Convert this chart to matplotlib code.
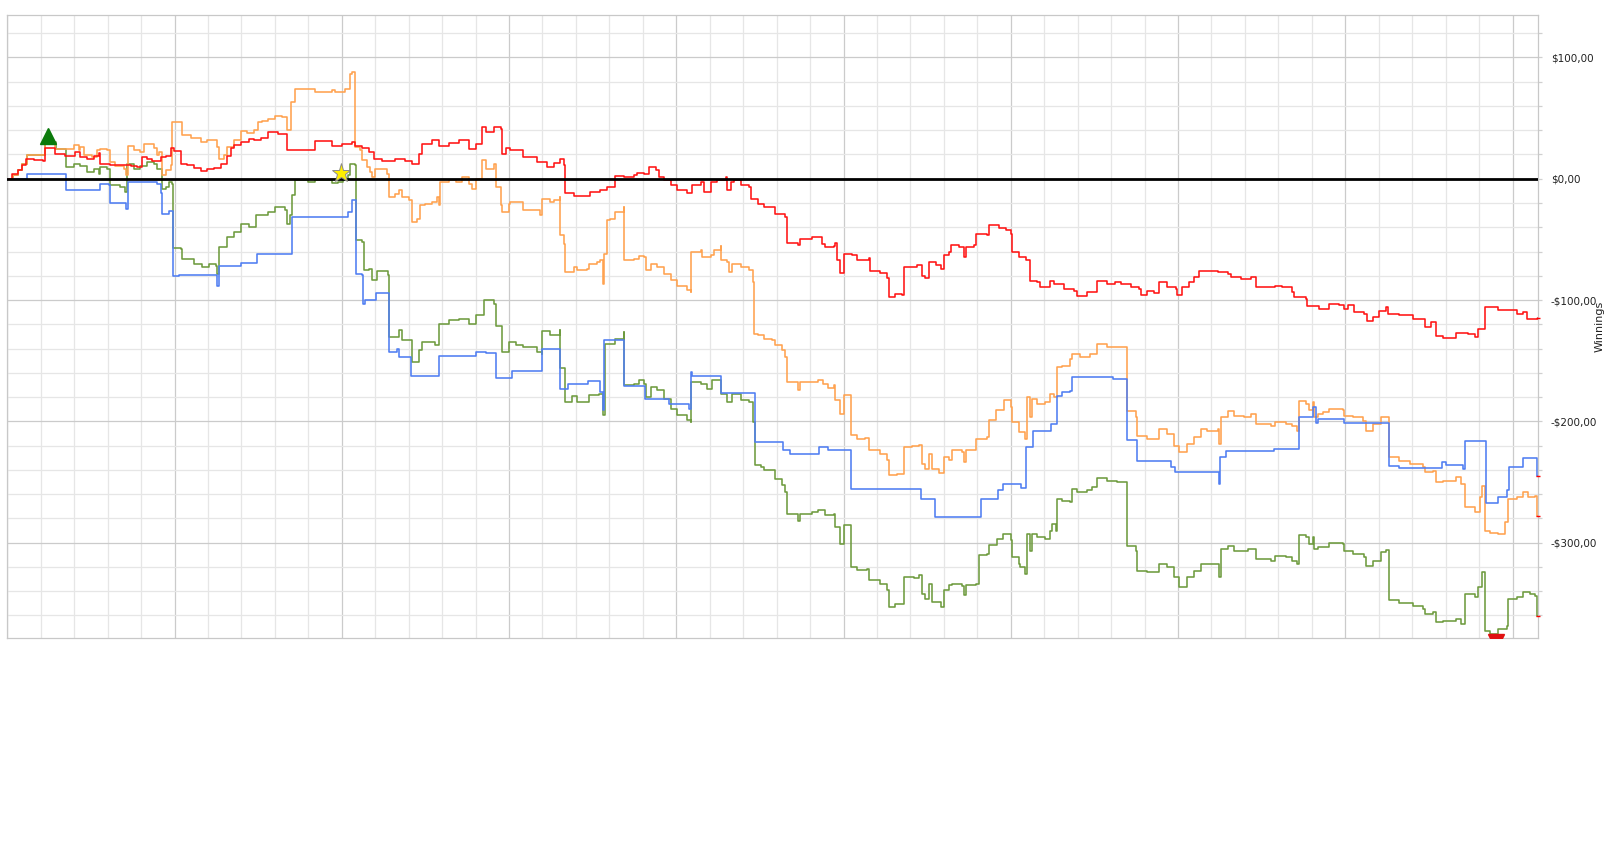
import matplotlib
matplotlib.use("Agg")
import matplotlib.pyplot as plt
from matplotlib.ticker import MultipleLocator, FuncFormatter

# cumulative winnings per series, (hand, dollars)
red = [(0, 0), (13, 4), (33, 7), (43, 11), (55, 16.5), (80, 15.5), (108, 15), (113, 25.5), (143, 20), (173, 18.4),
       (203, 22), (218, 18), (238, 16.5), (258, 18.4), (273, 21), (278, 12), (308, 11), (338, 11.5), (370, 10.5),
       (388, 10), (403, 18), (418, 16.5), (433, 15), (458, 17.6), (473, 19), (488, 25.5), (498, 23), (518, 12),
       (538, 11.5), (558, 9), (578, 6), (598, 8), (618, 8.5), (638, 12), (658, 19), (668, 25), (678, 27.5),
       (698, 30), (723, 32.4), (738, 31.6), (758, 34), (780, 38.5), (810, 37), (837, 23.4), (920, 31), (970, 26.6),
       (1000, 29), (1030, 30), (1040, 26.6), (1060, 25.5), (1080, 22), (1095, 16.5), (1120, 15), (1160, 16.5),
       (1190, 14.6), (1210, 11.8), (1230, 20.6), (1240, 29), (1270, 31.6), (1290, 26.6), (1320, 29.4), (1350, 31.6),
       (1380, 24.7), (1400, 28.3), (1420, 42.6), (1430, 38.5), (1455, 42.6), (1475, 41), (1478, 20.6), (1490, 25.5),
       (1503, 23.9), (1543, 17.9), (1583, 13.7), (1613, 9.6), (1633, 12.9), (1653, 16.5), (1663, 11), (1666, -11.8),
       (1693, -14.6), (1743, -11), (1773, -9.6), (1793, -6.9), (1818, 1.9), (1843, 1.4), (1873, 2.7), (1883, 4.7),
       (1903, 3.6), (1918, 9.6), (1938, 6.9), (1948, 1.4), (1963, -0.8), (1983, -5.5), (2003, -9.6), (2033, -11.8),
       (2048, -5.5), (2073, -2.7), (2083, -11), (2103, -2.7), (2123, -1.4), (2148, 1.4), (2153, -9.6), (2163, -2.7),
       (2173, -0.8), (2193, -5.5), (2218, -6.9), (2223, -16.5), (2243, -21), (2263, -23), (2285, -23.4),
       (2295, -28.8), (2325, -31.6), (2330, -53), (2365, -55), (2370, -49.5), (2405, -48), (2435, -53.6),
       (2445, -56), (2470, -55.5), (2475, -52.7), (2480, -67), (2490, -78), (2500, -61.8), (2525, -63), (2540, -67),
       (2575, -65.7), (2580, -76), (2610, -78), (2630, -82), (2637, -97.5), (2655, -95), (2675, -95.6), (2680, -73),
       (2705, -73), (2720, -71), (2735, -80.5), (2745, -82), (2755, -68.7), (2775, -71.4), (2790, -74), (2800, -63),
       (2815, -60.4), (2820, -55), (2845, -56.3), (2860, -64.5), (2865, -56.3), (2890, -55), (2895, -45.3),
       (2930, -46.7), (2935, -38.5), (2965, -41), (2985, -42.6), (3000, -45.3), (3005, -60.4), (3025, -64.5),
       (3045, -67), (3058, -84), (3078, -85.4), (3088, -89), (3118, -84), (3128, -86.8), (3158, -91), (3188, -92.3),
       (3198, -96.4), (3228, -93.7), (3258, -84), (3288, -86.8), (3313, -84.9), (3328, -86.8), (3358, -89.6),
       (3383, -90.9), (3388, -95.6), (3408, -92.3), (3428, -94.5), (3443, -85.4), (3468, -89), (3493, -90.9),
       (3498, -95.6), (3513, -89), (3533, -85.4), (3548, -81.3), (3563, -76.4), (3588, -75.8), (3618, -77.2),
       (3648, -78.6), (3658, -81.3), (3688, -82.7), (3718, -81.3), (3733, -89), (3768, -89.6), (3790, -88.2),
       (3812, -89.6), (3842, -93.7), (3847, -97.8), (3882, -99.2), (3887, -104.7), (3922, -107.4), (3952, -103.3),
       (3982, -103.8), (3997, -107.4), (4007, -103.8), (4027, -110), (4057, -111.5), (4064, -117.6),
       (4082, -113.7), (4102, -108.8), (4122, -105.5), (4127, -111.5), (4162, -112), (4202, -115.7), (4237, -122),
       (4257, -118.4), (4272, -129.4), (4292, -131.6), (4332, -127.5), (4367, -128), (4387, -130.8), (4397, -124),
       (4417, -106), (4457, -108.2), (4492, -108.2), (4512, -111.5), (4532, -110), (4542, -115.7), (4577, -114.8)]

orange = [(0, 0), (18, 2.7), (33, 6.9), (43, 12.4), (58, 19.2), (113, 30.2), (143, 24.7), (198, 28), (213, 23.4),
          (218, 26), (228, 19.2), (253, 17.9), (268, 23.4), (278, 24.7), (298, 23.9), (308, 13.7), (323, 10.2),
          (348, 8.2), (356, 2.7), (361, 26.6), (378, 23.4), (398, 22), (408, 29), (423, 28.3), (438, 25.5),
          (448, 19.2), (453, 22), (463, 2.7), (473, 6.9), (488, 11), (493, 46.7), (523, 35.7), (548, 33.8),
          (578, 30.2), (598, 32), (618, 31.6), (628, 26), (633, 16.5), (648, 19.2), (658, 26), (678, 31.6),
          (698, 39.3), (718, 37.6), (738, 39.8), (748, 46.7), (760, 48), (780, 49.5), (800, 52), (820, 50.5),
          (835, 49.5), (837, 39.8), (848, 63), (860, 74), (920, 71.4), (970, 73), (980, 71.4), (1010, 74.2),
          (1025, 86.5), (1030, 88), (1040, 26), (1055, 23.4), (1060, 15.1), (1075, 9.6), (1085, 5.5), (1090, 1.4),
          (1100, 8.2), (1120, 8.2), (1135, 4.1), (1140, -15.1), (1160, -12.4), (1170, -9.6), (1180, -15.1),
          (1200, -17.9), (1210, -35.7), (1225, -33), (1235, -22), (1250, -20.6), (1270, -19.2), (1285, -15.1),
          (1290, -22), (1295, -2.7), (1320, -1.4), (1340, -2.7), (1360, 1.4), (1380, -4.1), (1390, -8.2), (1400, 0),
          (1420, 15.1), (1430, 8.2), (1455, 12.4), (1460, -6.9), (1475, -22), (1480, -27.5), (1500, -20.6),
          (1503, -19.2), (1543, -26), (1593, -30.2), (1598, -16.5), (1623, -19.2), (1633, -17.9), (1651, -15.1),
          (1653, -46.7), (1663, -53.6), (1668, -77), (1693, -72.8), (1703, -75.5), (1733, -74.2), (1738, -70),
          (1763, -68.7), (1773, -67.3), (1781, -86.5), (1785, -61.8), (1793, -34.3), (1803, -33), (1818, -27.5),
          (1843, -23.4), (1845, -67.3), (1873, -65.9), (1888, -64), (1903, -64.6), (1908, -75.5), (1923, -70),
          (1943, -72.8), (1963, -78.3), (1983, -83.8), (2003, -88), (2033, -92), (2043, -93.4), (2045, -60.4),
          (2073, -59), (2078, -64.6), (2103, -63.2), (2113, -58.5), (2133, -55.8), (2135, -67.3), (2153, -68.7),
          (2158, -77), (2168, -70), (2193, -72.8), (2218, -75.5), (2228, -85.2), (2233, -127.7), (2243, -129),
          (2263, -131.9), (2285, -133), (2295, -137.4), (2315, -141.5), (2325, -147), (2330, -167.6),
          (2365, -174.5), (2370, -167.6), (2425, -165.7), (2440, -169), (2455, -172.3), (2470, -170.3),
          (2475, -182.7), (2490, -193.7), (2500, -178.6), (2523, -211.5), (2540, -214.3), (2565, -213.5),
          (2575, -223.4), (2610, -226.6), (2630, -232), (2637, -244.5), (2660, -243), (2680, -221), (2705, -220.6),
          (2725, -219.8), (2735, -235), (2745, -239), (2755, -226.6), (2765, -239), (2785, -242.6), (2800, -229.4),
          (2815, -232), (2825, -223.9), (2855, -225.3), (2860, -233.5), (2865, -223.9), (2890, -223.4),
          (2895, -214.3), (2930, -212.9), (2935, -199), (2955, -191), (2980, -182.7), (3000, -188.2), (3005, -200.5),
          (3025, -208.8), (3043, -214.6), (3048, -180.2), (3058, -196), (3063, -181.6), (3078, -185.7),
          (3103, -184.3), (3118, -177.5), (3128, -180.2), (3138, -155.5), (3153, -154.1), (3178, -148.6),
          (3183, -144.5), (3208, -146.7), (3238, -144.5), (3258, -136.3), (3288, -139), (3346, -141.8),
          (3348, -191.2), (3373, -196.7), (3378, -211.8), (3408, -214.6), (3443, -206.3), (3468, -210.4),
          (3488, -220), (3503, -225.5), (3528, -218.7), (3548, -213.2), (3568, -206.3), (3588, -207.7),
          (3618, -206.3), (3623, -218.7), (3628, -196.7), (3648, -191.2), (3668, -195.3), (3698, -196.7),
          (3718, -194), (3733, -202.2), (3778, -203.6), (3790, -200.8), (3822, -202.2), (3842, -203.6),
          (3857, -207.7), (3862, -183.5), (3882, -185.7), (3892, -190.7), (3902, -184.3), (3907, -196.7),
          (3917, -194), (3932, -192.6), (3952, -189.8), (3992, -190.7), (3997, -195.3), (4022, -196.7),
          (4052, -199.4), (4062, -207.7), (4082, -202.2), (4107, -196.7), (4132, -229.7), (4162, -232.4),
          (4192, -235.2), (4232, -237.9), (4237, -242), (4262, -240.7), (4272, -250.3), (4292, -248.9),
          (4332, -246.2), (4347, -251.6), (4357, -270.9), (4387, -275), (4402, -262.6), (4410, -253), (4417, -290),
          (4432, -292.3), (4457, -292.9), (4477, -283), (4487, -264), (4512, -262.6), (4532, -258.5),
          (4547, -262.6), (4567, -261.3), (4572, -277.7), (4577, -277.7)]

blue = [(0, 0), (58, 3.6), (98, 4.1), (176, -9), (213, -9.6), (278, -4.1), (303, -5.5), (308, -20), (356, -24.7),
        (361, -2.7), (448, -4.1), (458, -11.8), (463, -28.8), (483, -26.6), (495, -80.5), (513, -79.7), (628, -88),
        (633, -72.3), (698, -69.8), (746, -61.8), (850, -31.6), (1020, -27.5), (1030, -17.9), (1042, -78.3),
        (1060, -79.7), (1062, -103), (1070, -100.3), (1102, -94.2), (1140, -142.9), (1165, -140.1), (1172, -147),
        (1208, -163), (1290, -146.4), (1402, -142.9), (1430, -143.7), (1460, -164), (1508, -158.5), (1600, -140),
        (1653, -173), (1675, -169.5), (1735, -166.8), (1773, -175.8), (1781, -191), (1785, -133), (1845, -171),
        (1905, -181.3), (1978, -186), (2038, -189.6), (2043, -159.3), (2048, -162.9), (2135, -176.6),
        (2235, -217), (2320, -223.4), (2340, -226.6), (2428, -221.2), (2455, -223.9), (2523, -255.5),
        (2733, -263.7), (2773, -278.8), (2910, -263.7), (2963, -256.9), (2977, -251.4), (3030, -254.7),
        (3046, -221.4), (3065, -207.7), (3120, -202.2), (3138, -178.8), (3153, -176), (3178, -174.7),
        (3183, -163.7), (3306, -165.1), (3348, -215.4), (3376, -232.4), (3478, -238), (3490, -242), (3623, -251.6),
        (3626, -229), (3643, -224.2), (3788, -222.8), (3862, -196.2), (3904, -188.5), (3912, -201.6), (3917, -198),
        (3997, -201.6), (4132, -236.5), (4162, -238.5), (4290, -233.8), (4302, -236), (4352, -239.5), (4357, -216),
        (4420, -267.6), (4457, -262.6), (4482, -257), (4490, -238), (4530, -230.2), (4572, -244.8), (4577, -245)]

green = [(0, 0), (18, 2.7), (33, 6.9), (43, 12.4), (58, 19.2), (113, 30.2), (146, 24.7), (176, 9.6), (198, 12.4),
         (218, 10.2), (238, 5.5), (258, 8.2), (273, 4.1), (278, 9.6), (298, 8.2), (308, -5.5), (338, -6.9),
         (353, -11), (358, 12.4), (378, 8.2), (398, 10.2), (418, 13.7), (438, 12.4), (448, 8.2), (463, -8.2),
         (473, -6.9), (483, -2.7), (493, -4.1), (496, -56.9), (518, -57.7), (523, -66), (558, -70), (583, -72.8),
         (603, -70), (623, -72.3), (628, -78.3), (633, -56.3), (658, -48), (678, -43.9), (698, -37), (723, -39.8),
         (743, -30.2), (760, -30.2), (780, -27.5), (800, -23.4), (830, -26.1), (837, -37), (845, -30.2),
         (850, -13.7), (860, -1.4), (900, -2.7), (920, -1.4), (970, -3.6), (990, -2.7), (1005, -1.4), (1020, 2.7),
         (1025, 12.4), (1038, 11), (1042, -50.8), (1060, -52.2), (1065, -75.5), (1080, -74.2), (1090, -83.8),
         (1105, -76), (1138, -79.7), (1140, -130.5), (1170, -125), (1180, -133.2), (1210, -151), (1230, -141.5),
         (1240, -134.6), (1280, -137.4), (1290, -119.5), (1320, -116.8), (1350, -115.4), (1380, -119.5),
         (1400, -112.6), (1425, -100.3), (1455, -103), (1460, -121), (1480, -142.9), (1500, -134.6),
         (1520, -137.4), (1543, -138.7), (1583, -142.9), (1598, -144.2), (1600, -125.5), (1623, -129.1),
         (1651, -124.5), (1653, -155.8), (1668, -184), (1688, -179.4), (1703, -184), (1733, -184), (1738, -178.6),
         (1768, -177.2), (1781, -195), (1788, -136.5), (1818, -131.9), (1843, -126.4), (1845, -170.3),
         (1873, -169), (1888, -166.2), (1903, -169), (1908, -180), (1923, -171.7), (1943, -174.5), (1963, -181.3),
         (1983, -189.6), (2003, -195), (2033, -199.2), (2043, -200.5), (2045, -167.6), (2073, -169),
         (2093, -173.1), (2108, -166.2), (2133, -167.6), (2135, -177.2), (2153, -184), (2168, -177.2),
         (2193, -182.7), (2218, -184), (2228, -200.5), (2235, -236.3), (2253, -237.6), (2263, -240),
         (2285, -240.4), (2295, -247.3), (2315, -252.7), (2325, -258.2), (2330, -276), (2365, -282), (2370, -276),
         (2405, -274.7), (2425, -273.4), (2445, -277.5), (2470, -276), (2475, -287), (2490, -300.8),
         (2500, -285.7), (2523, -320), (2540, -322.8), (2570, -321.4), (2575, -330.5), (2610, -333.8),
         (2630, -339.3), (2637, -353), (2655, -350.8), (2680, -328.3), (2710, -328.8), (2725, -326.9), (2735, -342),
         (2745, -346.2), (2755, -333.8), (2765, -348.9), (2790, -353), (2800, -339.3), (2815, -335.2),
         (2825, -333.8), (2855, -336), (2860, -343.4), (2865, -335.2), (2895, -333.8), (2905, -310.4), (2930, -309),
         (2935, -302.2), (2960, -296.7), (2977, -292.6), (3000, -298.1), (3005, -311.8), (3025, -317.3),
         (3028, -319.8), (3043, -325.8), (3048, -292.9), (3058, -306.6), (3063, -292.9), (3078, -295.6),
         (3103, -297), (3118, -290.1), (3123, -284.6), (3136, -290.1), (3138, -264), (3153, -265.4),
         (3178, -266.8), (3183, -255.8), (3198, -258.5), (3228, -256.6), (3243, -254.4), (3258, -246.7),
         (3288, -248.9), (3318, -250.3), (3346, -251.6), (3348, -302.5), (3373, -306.6), (3378, -323),
         (3408, -324.4), (3443, -317.6), (3468, -320.3), (3488, -328.6), (3503, -336.8), (3528, -328.6),
         (3548, -323), (3568, -317.6), (3623, -328.6), (3628, -305.2), (3648, -302.5), (3668, -306.6),
         (3708, -305.2), (3733, -313.5), (3778, -314.8), (3790, -310.7), (3822, -312.1), (3842, -314.8),
         (3857, -318), (3862, -293.4), (3882, -295.6), (3892, -301.1), (3902, -295), (3907, -305.2),
         (3917, -303.8), (3952, -300.5), (3992, -301.1), (3997, -306.6), (4022, -309.3), (4057, -312.1),
         (4062, -319), (4082, -314.8), (4107, -307.9), (4122, -306), (4132, -347.3), (4162, -350), (4202, -352),
         (4232, -354.6), (4237, -358.8), (4262, -357.4), (4272, -365.7), (4292, -364.8), (4332, -363),
         (4347, -367.1), (4357, -342.3), (4387, -345), (4397, -336.8), (4410, -324.5), (4417, -372.5),
         (4432, -375.3), (4452, -375.3), (4457, -371.2), (4482, -368.4), (4487, -346.4), (4512, -345),
         (4532, -341), (4552, -342.3), (4567, -343.7), (4572, -360.2), (4577, -360.2)]

# markers: best point, marked hand, worst point
best_mark = (121, 35.2)
star_mark = (998, 4.7)
worst_mark = (4452, -382)

n_hands = 4577

fig = plt.figure(figsize=(16.07, 8.41), dpi=100)
ax = fig.add_axes([7.3 / 1607, 1 - 638 / 841, (1538.3 - 7.3) / 1607, (638 - 15) / 841])

series = [(green, "#6E9B3E"), (orange, "#FFA24F"), (blue, "#4F7DF2"), (red, "#FF1414")]
for pts, col in series:
    xs = [p[0] for p in pts]
    ys = [p[1] for p in pts]
    ax.plot(xs, ys, drawstyle="steps-post", color=col, lw=1.15, zorder=2)
    ax.plot(xs[-1], ys[-1], marker="_", color="#FF0000", ms=3, mew=1, zorder=4, clip_on=False)

ax.axhline(0, color="black", lw=2, zorder=3)

ax.plot(*best_mark, marker="^", color="#0B7A0B", ms=11, zorder=5)
ax.plot(*star_mark, marker="*", mfc="#FFEE00", mec="#8A8A8A", mew=0.7, ms=14, zorder=5)
ax.plot(*worst_mark, marker="v", color="#E01010", ms=11, zorder=5)

ax.set_xlim(0, n_hands)
ax.set_ylim(-378.6, 135)

ax.xaxis.set_major_locator(MultipleLocator(500))
ax.xaxis.set_minor_locator(MultipleLocator(100))
ax.yaxis.set_major_locator(MultipleLocator(100))
ax.yaxis.set_minor_locator(MultipleLocator(20))
ax.grid(which="major", color="#CBCBCB", lw=0.9)
ax.grid(which="minor", color="#E6E6E6", lw=0.9)
ax.set_axisbelow(True)

ax.tick_params(axis="x", which="both", length=0, labelbottom=False)
ax.yaxis.tick_right()
ax.tick_params(axis="y", which="both", length=3, color="#D0D0D0", width=0.9, pad=6,
               labelsize=7.5, labelcolor="#222222")


def money(v, pos):
    s = f"${abs(v):.2f}".replace(".", ",")
    return "-" + s if v < 0 else s


ax.yaxis.set_major_formatter(FuncFormatter(money))
for sp in ax.spines.values():
    sp.set_color("#C8C8C8")
    sp.set_linewidth(0.9)

# axis title sits at the far right edge
fig.text(1605 / 1607, 0.612, "Winnings", rotation=90, ha="right", va="center", fontsize=8, color="#222222")

fig.savefig("out.png", dpi=100, facecolor="white")
